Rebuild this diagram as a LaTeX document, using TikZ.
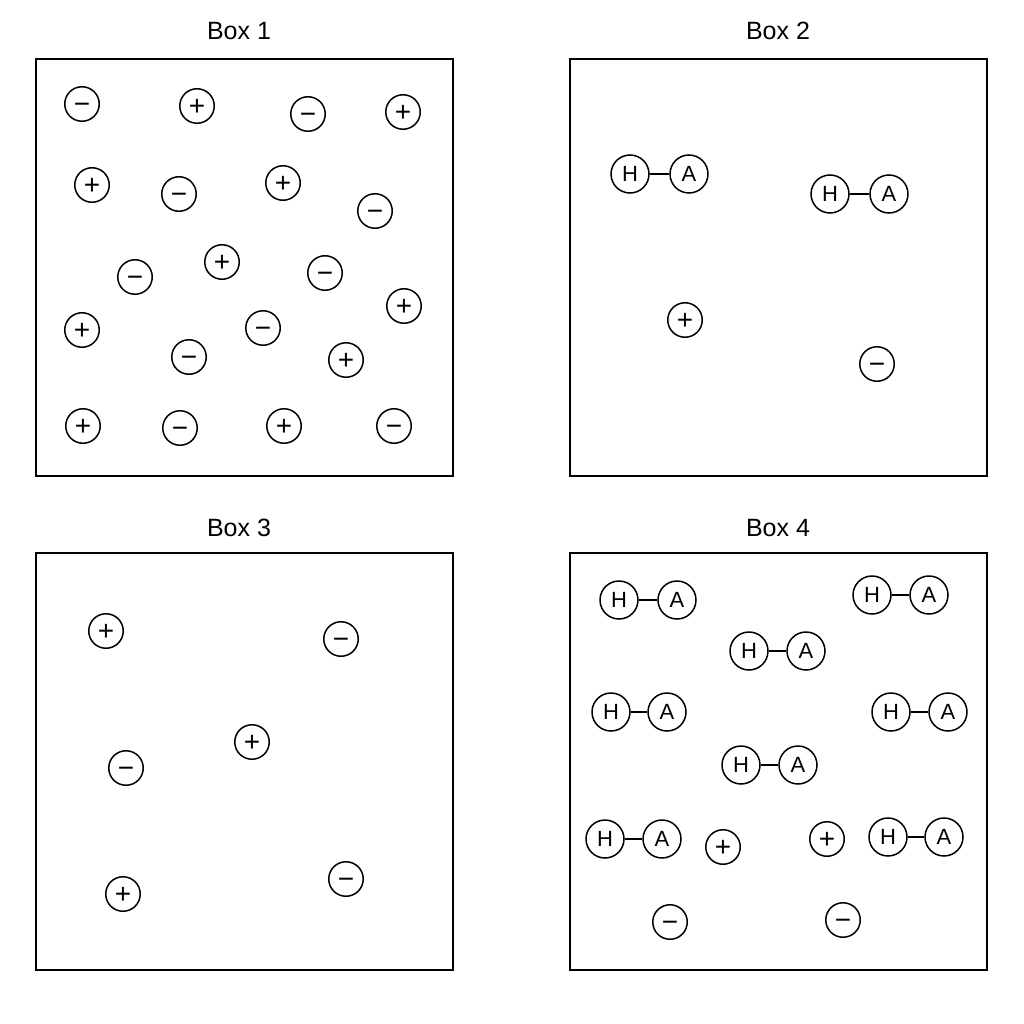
\documentclass[tikz,border=0pt]{standalone}
\usepackage{fontspec}
\setmainfont{Liberation Sans}
\newcommand{\centeredsign}[1]{\raisebox{-0.34em}{#1}}
\begin{document}
\begin{tikzpicture}[x=1pt,y=-1pt,
  frame/.style={draw, line width=2pt, minimum width=417pt, minimum height=417pt, inner sep=0pt},
  title/.style={font=\fontsize{25}{30}\selectfont},
  ion/.style={circle, draw, line width=1.5pt, minimum size=34.5pt, inner sep=0pt,
    text height=0pt, text depth=0pt, font=\fontsize{28}{30}\selectfont},
  atom/.style={circle, draw, line width=1.5pt, minimum size=38pt, inner sep=0pt, font=\fontsize{22}{26}\selectfont},
  bond/.style={line width=1.5pt}]
\useasboundingbox[fill=white] (0,0) rectangle (1024,1024);

% frames and titles
\node[frame] (box1) at (244.5,267.5) {};
\node[frame] (box2) at (778.5,267.5) {};
\node[frame] (box3) at (244.5,761.5) {};
\node[frame] (box4) at (778.5,761.5) {};
\node[title] (t1) at (239,31) {Box 1};
\node[title] (t2) at (778,31) {Box 2};
\node[title] (t3) at (239,528) {Box 3};
\node[title] (t4) at (778,528) {Box 4};

% Box 1 ions
\foreach \x/\y/\s [count=\i] in {
  82/104/−, 197/106/+, 308/114/−, 403/112/+,
  92/185/+, 179/194/−, 283/183/+, 375/211/−,
  135/277/−, 222/262/+, 325/273/−, 404/306/+,
  82/330/+, 263/328/−, 189/357/−, 346/360/+,
  83/426/+, 180/428/−, 284/426/+, 394/426/−}
  \node[ion] (b1-\i) at (\x,\y) {\centeredsign{\s}};

% Box 2
\foreach \xh/\xa/\y [count=\i] in {630/689/174, 830/889/194}
{
  \node[atom] (h2-\i) at (\xh,\y) {H};
  \node[atom] (a2-\i) at (\xa,\y) {A};
  \draw[bond] (h2-\i) -- (a2-\i);
}
\node[ion] (b2-1) at (685,320) {\centeredsign{+}};
\node[ion] (b2-2) at (877,364) {\centeredsign{−}};

% Box 3 ions
\foreach \x/\y/\s [count=\i] in {
  106/631/+, 341/639/−, 252/742/+, 126/768/−, 123/894/+, 346/879/−}
  \node[ion] (b3-\i) at (\x,\y) {\centeredsign{\s}};

% Box 4
\foreach \xh/\xa/\y [count=\i] in {
  619/677/600, 872/929/595, 749/806/651, 611/667/712,
  891/948/712, 741/798/765, 605/662/839, 888/944/837}
{
  \node[atom] (h4-\i) at (\xh,\y) {H};
  \node[atom] (a4-\i) at (\xa,\y) {A};
  \draw[bond] (h4-\i) -- (a4-\i);
}
\node[ion] (b4-1) at (723,847) {\centeredsign{+}};
\node[ion] (b4-2) at (827,839) {\centeredsign{+}};
\node[ion] (b4-3) at (670,922) {\centeredsign{−}};
\node[ion] (b4-4) at (843,920) {\centeredsign{−}};
\end{tikzpicture}
\end{document}
